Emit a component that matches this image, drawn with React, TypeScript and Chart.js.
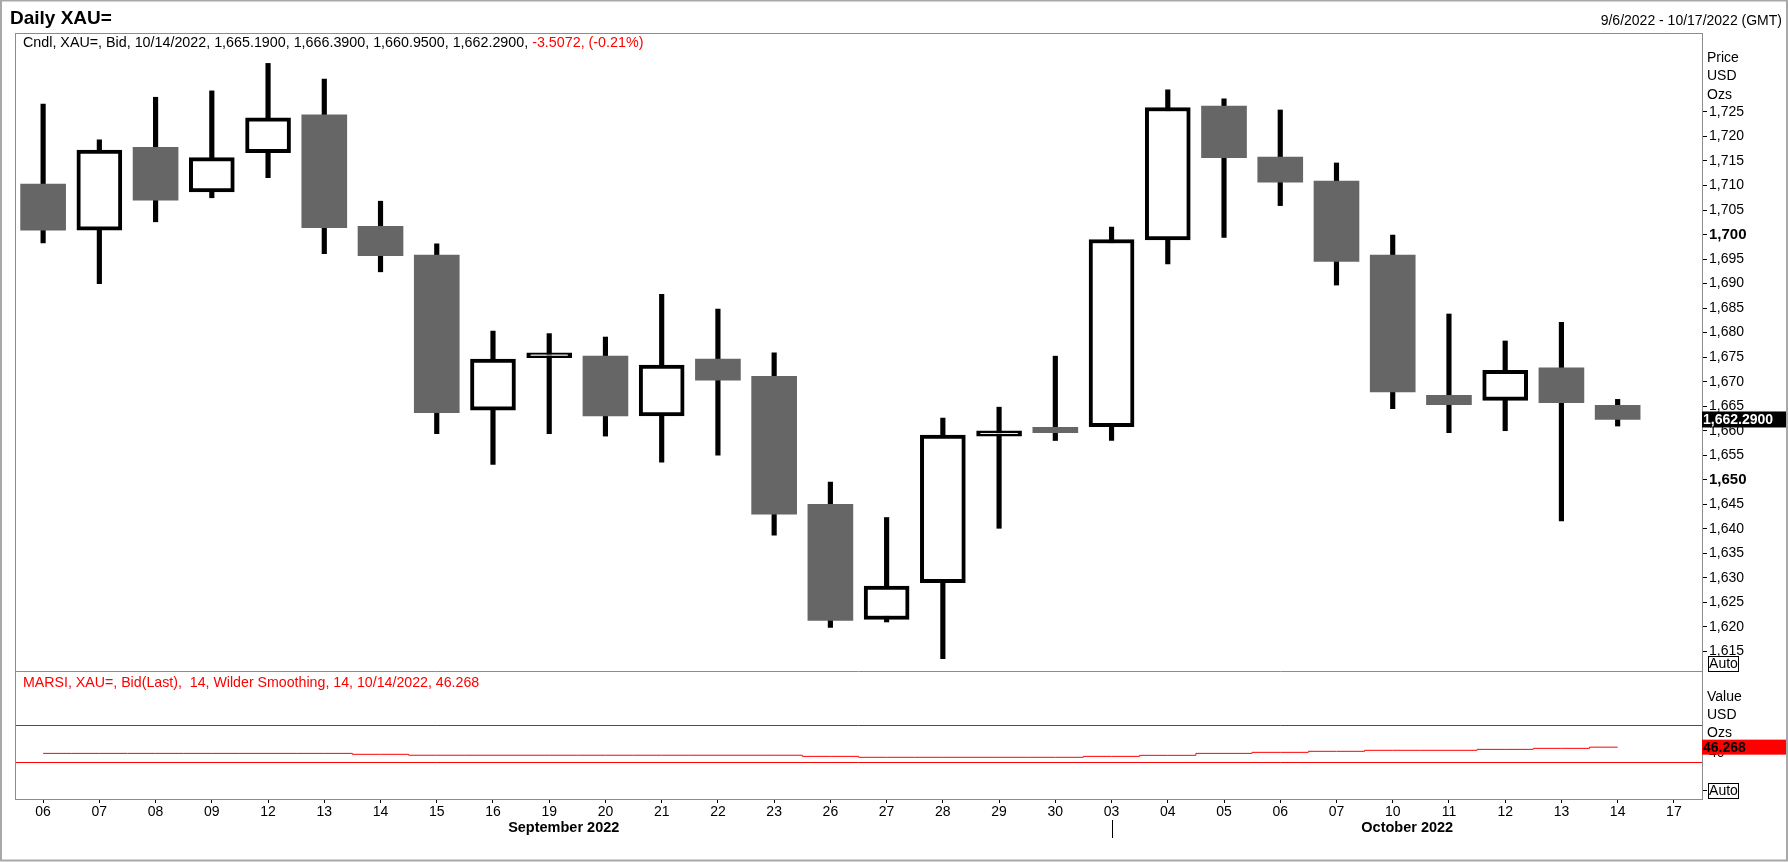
import { useEffect, useRef } from 'react'
import { Chart, registerables } from 'chart.js'

Chart.register(...registerables)

const FONT = "'Liberation Sans', Arial, sans-serif"

// trading days, 6 Sep 2022 - 17 Oct 2022 (last slot has no candle yet)
const days = [
  '06', '07', '08', '09', '12', '13', '14', '15', '16', '19', '20', '21', '22', '23', '26',
  '27', '28', '29', '30', '03', '04', '05', '06', '07', '10', '11', '12', '13', '14', '17',
]
const opens = [
  1710.3, 1700.9, 1717.8, 1708.7, 1716.7, 1724.4, 1701.7, 1695.8, 1664.2, 1674.9, 1675.2,
  1663.0, 1674.6, 1671.1, 1645.0, 1621.5, 1629.0, 1658.9, 1660.7, 1660.8, 1698.9, 1726.2,
  1715.8, 1710.9, 1695.8, 1667.2, 1666.2, 1672.8, 1665.19,
]
const highs = [
  1726.6, 1719.3, 1728.0, 1729.3, 1734.9, 1731.7, 1706.8, 1698.1, 1680.3, 1679.8, 1679.1,
  1687.8, 1684.8, 1675.9, 1649.5, 1642.3, 1662.6, 1664.8, 1675.2, 1701.5, 1729.5, 1727.7,
  1725.4, 1714.6, 1699.9, 1683.8, 1678.3, 1682.1, 1666.39,
]
const lows = [
  1698.3, 1690.0, 1702.6, 1707.5, 1711.6, 1696.1, 1692.4, 1659.4, 1653.1, 1659.4, 1658.9,
  1653.6, 1655.0, 1638.7, 1619.9, 1621.0, 1613.5, 1640.1, 1658.0, 1658.0, 1694.0, 1699.4,
  1705.9, 1689.7, 1664.5, 1659.6, 1660.0, 1641.6, 1660.95,
]
const closes = [
  1700.9, 1717.2, 1707.0, 1715.7, 1723.8, 1701.4, 1695.7, 1663.7, 1674.6, 1675.9, 1663.0,
  1673.4, 1670.3, 1643.0, 1621.3, 1628.3, 1659.1, 1660.0, 1659.6, 1699.0, 1725.9, 1715.7,
  1710.7, 1694.5, 1667.9, 1665.3, 1672.3, 1665.7, 1662.29,
]
const rsi = [
  39.6, 39.6, 39.6, 39.6, 39.6, 39.6, 38.6, 37.6, 37.6, 37.6, 37.6, 37.6, 37.6, 37.6, 36.4,
  35.4, 35.4, 35.4, 35.4, 36.4, 37.5, 39.6, 40.7, 41.8, 42.9, 42.9, 43.9, 45.0, 46.268,
]
const rsiLevels = [70, 30]
const rsiTicks = [0, 40]
const changeText = '-3.5072, (-0.21%)'

const isUp = (i: number) => closes[i] >= opens[i]
const fmt4 = (v: number) =>
  v.toLocaleString('en-US', { minimumFractionDigits: 4, maximumFractionDigits: 4 })

const decorations = {
  id: 'decorations',
  beforeDatasetsDraw(chart: any) {
    const { ctx, chartArea } = chart
    const y2 = chart.scales.y2
    ctx.save()
    ctx.strokeStyle = '#ff0000'
    ctx.lineWidth = 1
    rsiLevels.forEach((v) => {
      const py = Math.round(y2.getPixelForValue(v)) + 0.5
      ctx.beginPath()
      ctx.moveTo(chartArea.left, py)
      ctx.lineTo(chartArea.right, py)
      ctx.stroke()
    })
    ctx.restore()
  },
  afterDraw(chart: any) {
    const { ctx, chartArea, width, height } = chart
    const { x, y, y2 } = chart.scales
    const last = closes.length - 1
    ctx.save()

    // outer frame
    ctx.strokeStyle = '#a8a8a8'
    ctx.lineWidth = 2
    ctx.strokeRect(1, 0.5, width - 2, height - 2)

    // pane frames
    ctx.strokeStyle = '#8c8c8c'
    ctx.lineWidth = 1
    ctx.strokeRect(
      chartArea.left + 0.5,
      chartArea.top + 0.5,
      chartArea.right - chartArea.left,
      chartArea.bottom - chartArea.top,
    )
    ctx.beginPath()
    ctx.moveTo(chartArea.left, Math.round(y.bottom) + 0.5)
    ctx.lineTo(chartArea.right, Math.round(y.bottom) + 0.5)
    ctx.stroke()

    ctx.textBaseline = 'alphabetic'
    ctx.fillStyle = '#000'
    ctx.font = `bold 19px ${FONT}`
    ctx.textAlign = 'left'
    ctx.fillText('Daily XAU=', 10, 24)

    ctx.textBaseline = 'middle'
    ctx.font = `14px ${FONT}`
    ctx.textAlign = 'right'
    ctx.fillText('9/6/2022 - 10/17/2022 (GMT)', 1782, 21)

    // legends
    ctx.textAlign = 'left'
    ctx.font = `14.3px ${FONT}`
    const legend = `Cndl, XAU=, Bid, 10/14/2022, ${fmt4(opens[last])}, ${fmt4(highs[last])}, ${fmt4(
      lows[last],
    )}, ${fmt4(closes[last])}, `
    ctx.fillText(legend, chartArea.left + 8, 43)
    const lw = ctx.measureText(legend).width
    ctx.fillStyle = '#ff0000'
    ctx.fillText(changeText, chartArea.left + 8 + lw, 43)
    ctx.font = `14.2px ${FONT}`
    ctx.fillText(
      `MARSI, XAU=, Bid(Last),  14, Wilder Smoothing, 14, 10/14/2022, ${rsi[last]}`,
      chartArea.left + 8,
      y2.top + 12,
    )

    // axis captions
    ctx.fillStyle = '#000'
    ctx.font = `14px ${FONT}`
    const ax = chartArea.right + 5
    ;['Price', 'USD', 'Ozs'].forEach((t, i) => ctx.fillText(t, ax, 58 + i * 18.5))
    ;['Value', 'USD', 'Ozs'].forEach((t, i) => ctx.fillText(t, ax, y2.top + 26 + i * 18))

    const autoBox = (top: number) => {
      ctx.fillStyle = '#fff'
      ctx.fillRect(chartArea.right + 6, top, 30, 15)
      ctx.strokeStyle = '#000'
      ctx.strokeRect(chartArea.right + 6.5, top + 0.5, 30, 15)
      ctx.fillStyle = '#000'
      ctx.textAlign = 'center'
      ctx.fillText('Auto', chartArea.right + 21.5, top + 8.5)
      ctx.textAlign = 'left'
    }
    autoBox(y.bottom - 15)
    autoBox(chartArea.bottom - 16)

    // last value badges
    const py = y.getPixelForValue(closes[last])
    ctx.fillStyle = '#000'
    ctx.fillRect(chartArea.right, py - 8, width - chartArea.right - 2, 16)
    ctx.fillStyle = '#fff'
    ctx.font = `bold 14px ${FONT}`
    ctx.fillText(fmt4(closes[last]), chartArea.right + 1, py + 0.5)

    const ry = y2.getPixelForValue(rsi[last])
    ctx.fillStyle = '#ff0000'
    ctx.fillRect(chartArea.right, ry - 7.5, width - chartArea.right - 2, 15)
    ctx.fillStyle = '#000'
    ctx.fillText(String(rsi[last]), chartArea.right + 1, ry + 0.5)

    // month labels and separator
    const sepX = Math.round(x.getPixelForValue(19)) + 0.5
    ctx.strokeStyle = '#000'
    ctx.beginPath()
    ctx.moveTo(sepX, chartArea.bottom + 21)
    ctx.lineTo(sepX, chartArea.bottom + 39)
    ctx.stroke()
    ctx.font = `bold 14.5px ${FONT}`
    ctx.textAlign = 'center'
    ctx.fillText('September 2022', (chartArea.left + sepX) / 2, chartArea.bottom + 29)
    ctx.fillText('October 2022', (sepX + chartArea.right) / 2, chartArea.bottom + 29)

    ctx.restore()
  },
}

export default function App() {
  const canvasRef = useRef<HTMLCanvasElement | null>(null)

  useEffect(() => {
    document.body.style.margin = '0'
    if (!canvasRef.current) return

    const chart = new Chart(canvasRef.current, {
      type: 'bar',
      data: {
        labels: days,
        datasets: [
          {
            type: 'line',
            data: rsi,
            yAxisID: 'y2',
            borderColor: '#ff0000',
            borderWidth: 1,
            pointRadius: 0,
            stepped: 'middle',
            order: 0,
          },
          {
            data: opens.map((o, i) => [o, closes[i]]),
            yAxisID: 'y',
            grouped: false,
            barThickness: 45,
            backgroundColor: opens.map((_, i) => (isUp(i) ? '#ffffff' : '#666666')),
            borderColor: opens.map((_, i) => (isUp(i) ? '#000000' : '#666666')),
            borderWidth: opens.map((_, i) => (isUp(i) ? 4 : 0)),
            borderSkipped: false,
            order: 1,
          },
          {
            data: lows.map((l, i) => [l, highs[i]]),
            yAxisID: 'y',
            grouped: false,
            barThickness: 4.5,
            backgroundColor: '#000000',
            borderWidth: 0,
            order: 2,
          },
        ],
      } as any,
      options: {
        animation: false,
        responsive: true,
        maintainAspectRatio: false,
        events: [],
        layout: { padding: { left: 15, top: 33, right: 0, bottom: 0 } },
        plugins: {
          legend: { display: false },
          tooltip: { enabled: false },
        },
        scales: {
          x: {
            type: 'category',
            border: { display: false },
            grid: { drawOnChartArea: false, offset: false, tickLength: 4, color: '#000' },
            ticks: {
              autoSkip: false,
              maxRotation: 0,
              padding: 1,
              color: '#000',
              font: { family: FONT, size: 14 },
            },
            afterFit: (s: any) => {
              s.height = 63
            },
          },
          y: {
            type: 'linear',
            position: 'right',
            stack: 'panes',
            stackWeight: 638,
            min: 1611,
            max: 1741.1,
            border: { display: false },
            grid: { drawOnChartArea: false, tickLength: 5, color: '#000' },
            ticks: {
              stepSize: 5,
              autoSkip: false,
              includeBounds: false,
              padding: 2,
              color: '#000',
              font: (c: any) => ({
                family: FONT,
                size: c.tick && c.tick.value % 50 === 0 ? 15 : 14,
                weight: c.tick && c.tick.value % 50 === 0 ? 'bold' : 'normal',
              }),
              callback: (v: any) => Number(v).toLocaleString('en-US'),
            },
            afterBuildTicks: (s: any) => {
              s.ticks = s.ticks.filter((t: any) => t.value <= 1725 && t.value >= 1615)
            },
            afterFit: (s: any) => {
              s.width = 86
            },
          },
          y2: {
            type: 'linear',
            position: 'right',
            stack: 'panes',
            stackWeight: 128,
            min: -9.3,
            max: 127.9,
            border: { display: false },
            grid: { drawOnChartArea: false, tickLength: 5, color: '#000' },
            ticks: {
              autoSkip: false,
              padding: 2,
              color: '#000',
              font: { family: FONT, size: 14 },
            },
            afterBuildTicks: (s: any) => {
              s.ticks = rsiTicks.map((v) => ({ value: v }))
            },
            afterFit: (s: any) => {
              s.width = 86
            },
          },
        },
      } as any,
      plugins: [decorations],
    })

    return () => {
      chart.destroy()
    }
  }, [])

  return (
    <div style={{ width: 1788, height: 862, position: 'relative', background: '#fff' }}>
      <canvas ref={canvasRef} />
    </div>
  )
}
